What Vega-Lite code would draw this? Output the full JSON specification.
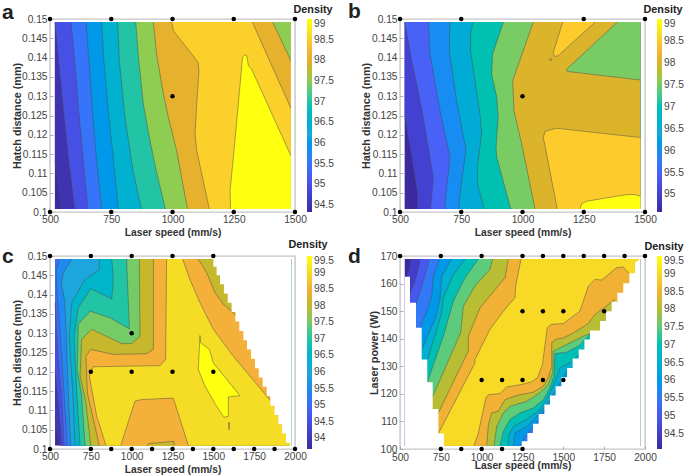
{"$schema":"https://vega.github.io/schema/vega-lite/v6.json","background":"white","padding":{"left":1,"top":0,"right":0,"bottom":0},"columns":2,"spacing":{"row":44,"column":105},"bounds":"flush","resolve":{"scale":{"fill":"independent"},"legend":{"fill":"independent"}},"config":{"font":"Liberation Sans","view":{"stroke":"#c6c6c6","strokeWidth":1.4},"axis":{"grid":false,"domain":false,"ticks":true,"tickSize":-3,"tickColor":"#999999","tickWidth":0.8,"labelColor":"#444444","labelFontSize":10.2,"labelPadding":6,"titleColor":"#333333","titleFontSize":10.8,"titleFontWeight":"bold","labelFlush":false,"labelOverlap":false},"axisX":{"titleFontSize":10.3,"labelPadding":5},"legend":{"padding":0,"labelColor":"#444444","labelFontSize":10.2,"labelOffset":3,"gradientStrokeWidth":0}},
"datasets":{
"a":[
{"s":0,"v":94.33,"x":520,"y":0.1492},{"s":0,"v":94.33,"x":1483,"y":0.1492},{"s":0,"v":94.33,"x":1483,"y":0.1008},{"s":0,"v":94.33,"x":520,"y":0.1008},
{"s":1,"v":94.5,"x":520,"y":0.1133,"g":1},{"s":1,"v":94.5,"x":534,"y":0.1064,"g":1},{"s":1,"v":94.5,"x":544,"y":0.1008,"g":1},{"s":1,"v":94.5,"x":1483,"y":0.1008},{"s":1,"v":94.5,"x":1483,"y":0.1492},{"s":1,"v":94.5,"x":520,"y":0.1492},
{"s":2,"v":95,"x":520,"y":0.1492,"g":2},{"s":2,"v":95,"x":538,"y":0.1375,"g":2},{"s":2,"v":95,"x":554,"y":0.1271,"g":2},{"s":2,"v":95,"x":575,"y":0.1142,"g":2},{"s":2,"v":95,"x":601,"y":0.1008,"g":2},{"s":2,"v":95,"x":1483,"y":0.1008},{"s":2,"v":95,"x":1483,"y":0.1492},
{"s":3,"v":95.5,"x":586,"y":0.1492,"g":3},{"s":3,"v":95.5,"x":602,"y":0.1383,"g":3},{"s":3,"v":95.5,"x":616,"y":0.1271,"g":3},{"s":3,"v":95.5,"x":636,"y":0.1133,"g":3},{"s":3,"v":95.5,"x":655,"y":0.1008,"g":3},{"s":3,"v":95.5,"x":1483,"y":0.1008},{"s":3,"v":95.5,"x":1483,"y":0.1492},
{"s":4,"v":96,"x":647,"y":0.1492,"g":4},{"s":4,"v":96,"x":661,"y":0.1375,"g":4},{"s":4,"v":96,"x":674,"y":0.1254,"g":4},{"s":4,"v":96,"x":690,"y":0.1133,"g":4},{"s":4,"v":96,"x":711,"y":0.1008,"g":4},{"s":4,"v":96,"x":1483,"y":0.1008},{"s":4,"v":96,"x":1483,"y":0.1492},
{"s":5,"v":96.5,"x":711,"y":0.1492,"g":5},{"s":5,"v":96.5,"x":720,"y":0.1392,"g":5},{"s":5,"v":96.5,"x":738,"y":0.1263,"g":5},{"s":5,"v":96.5,"x":758,"y":0.1142,"g":5},{"s":5,"v":96.5,"x":779,"y":0.1008,"g":5},{"s":5,"v":96.5,"x":1483,"y":0.1008},{"s":5,"v":96.5,"x":1483,"y":0.1492},
{"s":6,"v":97,"x":776,"y":0.1492,"g":6},{"s":6,"v":97,"x":783,"y":0.1392,"g":6},{"s":6,"v":97,"x":806,"y":0.1245,"g":6},{"s":6,"v":97,"x":840,"y":0.1103,"g":6},{"s":6,"v":97,"x":873,"y":0.1008,"g":6},{"s":6,"v":97,"x":1483,"y":0.1008},{"s":6,"v":97,"x":1483,"y":0.1492},
{"s":7,"v":97.5,"x":850,"y":0.1492,"g":7},{"s":7,"v":97.5,"x":861,"y":0.1401,"g":7},{"s":7,"v":97.5,"x":881,"y":0.128,"g":7},{"s":7,"v":97.5,"x":908,"y":0.1185,"g":7},{"s":7,"v":97.5,"x":935,"y":0.1103,"g":7},{"s":7,"v":97.5,"x":971,"y":0.1008,"g":7},{"s":7,"v":97.5,"x":1483,"y":0.1008},{"s":7,"v":97.5,"x":1483,"y":0.1492},
{"s":8,"v":98,"x":922,"y":0.1492,"g":8},{"s":8,"v":98,"x":935,"y":0.1409,"g":8},{"s":8,"v":98,"x":963,"y":0.1306,"g":8},{"s":8,"v":98,"x":983,"y":0.1245,"g":8},{"s":8,"v":98,"x":1017,"y":0.1159,"g":8},{"s":8,"v":98,"x":1061,"y":0.1008,"g":8},{"s":8,"v":98,"x":1483,"y":0.1008},{"s":8,"v":98,"x":1483,"y":0.1492},
{"s":9,"v":98.5,"x":997,"y":0.1492,"g":9},{"s":9,"v":98.5,"x":1003,"y":0.147,"g":9},{"s":9,"v":98.5,"x":1105,"y":0.1388,"g":9},{"s":9,"v":98.5,"x":1108,"y":0.1366,"g":9},{"s":9,"v":98.5,"x":1099,"y":0.128,"g":9},{"s":9,"v":98.5,"x":1092,"y":0.1202,"g":9},{"s":9,"v":98.5,"x":1099,"y":0.1159,"g":9},{"s":9,"v":98.5,"x":1150,"y":0.1008,"g":9},{"s":9,"v":98.5,"x":1483,"y":0.1008},{"s":9,"v":98.5,"x":1483,"y":0.1492},
{"s":10,"v":99,"x":1237,"y":0.1008,"g":10},{"s":10,"v":99,"x":1235,"y":0.1055,"g":10},{"s":10,"v":99,"x":1255,"y":0.1185,"g":10},{"s":10,"v":99,"x":1286,"y":0.1401,"g":10},{"s":10,"v":99,"x":1296,"y":0.1407,"g":10},{"s":10,"v":99,"x":1303,"y":0.1405,"g":10},{"s":10,"v":99,"x":1310,"y":0.1379,"g":10},{"s":10,"v":99,"x":1323,"y":0.137,"g":10},{"s":10,"v":99,"x":1483,"y":0.1146,"g":10},{"s":10,"v":99,"x":1483,"y":0.1008},
{"s":11,"v":98,"x":1326,"y":0.1492,"g":11},{"s":11,"v":98,"x":1384,"y":0.1409,"g":11},{"s":11,"v":98,"x":1483,"y":0.1269,"g":11},{"s":11,"v":98,"x":1483,"y":0.1492},
{"s":12,"v":97.5,"x":1409,"y":0.1492,"g":12},{"s":12,"v":97.5,"x":1483,"y":0.1392,"g":12},{"s":12,"v":97.5,"x":1483,"y":0.1492}
],
"b":[
{"s":0,"v":94.6,"x":519,"y":0.1492},{"s":0,"v":94.6,"x":1481,"y":0.1492},{"s":0,"v":94.6,"x":1481,"y":0.1008},{"s":0,"v":94.6,"x":519,"y":0.1008},
{"s":1,"v":95,"x":519,"y":0.125,"g":1},{"s":1,"v":95,"x":548,"y":0.1142,"g":1},{"s":1,"v":95,"x":571,"y":0.1051,"g":1},{"s":1,"v":95,"x":571,"y":0.1008,"g":1},{"s":1,"v":95,"x":1481,"y":0.1008},{"s":1,"v":95,"x":1481,"y":0.1492},{"s":1,"v":95,"x":519,"y":0.1492},
{"s":2,"v":95.5,"x":519,"y":0.1492,"g":2},{"s":2,"v":95.5,"x":548,"y":0.1392,"g":2},{"s":2,"v":95.5,"x":588,"y":0.1271,"g":2},{"s":2,"v":95.5,"x":636,"y":0.109,"g":2},{"s":2,"v":95.5,"x":625,"y":0.1008,"g":2},{"s":2,"v":95.5,"x":1481,"y":0.1008},{"s":2,"v":95.5,"x":1481,"y":0.1492},
{"s":3,"v":96,"x":616,"y":0.1492,"g":3},{"s":3,"v":96,"x":620,"y":0.1452,"g":3},{"s":3,"v":96,"x":620,"y":0.1418,"g":3},{"s":3,"v":96,"x":663,"y":0.1263,"g":3},{"s":3,"v":96,"x":704,"y":0.1142,"g":3},{"s":3,"v":96,"x":684,"y":0.1021,"g":3},{"s":3,"v":96,"x":685,"y":0.1008,"g":3},{"s":3,"v":96,"x":1481,"y":0.1008},{"s":3,"v":96,"x":1481,"y":0.1492},
{"s":4,"v":96.5,"x":704,"y":0.1492,"g":4},{"s":4,"v":96.5,"x":701,"y":0.1418,"g":4},{"s":4,"v":96.5,"x":731,"y":0.1288,"g":4},{"s":4,"v":96.5,"x":769,"y":0.1163,"g":4},{"s":4,"v":96.5,"x":742,"y":0.1029,"g":4},{"s":4,"v":96.5,"x":742,"y":0.1008,"g":4},{"s":4,"v":96.5,"x":1481,"y":0.1008},{"s":4,"v":96.5,"x":1481,"y":0.1492},
{"s":5,"v":97,"x":799,"y":0.1492,"g":5},{"s":5,"v":97,"x":788,"y":0.1465,"g":5},{"s":5,"v":97,"x":788,"y":0.1418,"g":5},{"s":5,"v":97,"x":827,"y":0.125,"g":5},{"s":5,"v":97,"x":833,"y":0.1202,"g":5},{"s":5,"v":97,"x":816,"y":0.1116,"g":5},{"s":5,"v":97,"x":816,"y":0.1073,"g":5},{"s":5,"v":97,"x":843,"y":0.1008,"g":5},{"s":5,"v":97,"x":1481,"y":0.1008},{"s":5,"v":97,"x":1481,"y":0.1492},
{"s":6,"v":97.5,"x":922,"y":0.1492,"g":6},{"s":6,"v":97.5,"x":878,"y":0.1409,"g":6},{"s":6,"v":97.5,"x":874,"y":0.1358,"g":6},{"s":6,"v":97.5,"x":895,"y":0.1297,"g":6},{"s":6,"v":97.5,"x":901,"y":0.1245,"g":6},{"s":6,"v":97.5,"x":892,"y":0.1168,"g":6},{"s":6,"v":97.5,"x":895,"y":0.1142,"g":6},{"s":6,"v":97.5,"x":952,"y":0.1008,"g":6},{"s":6,"v":97.5,"x":1481,"y":0.1008},{"s":6,"v":97.5,"x":1481,"y":0.1492},
{"s":7,"v":98,"x":1044,"y":0.1492,"g":7},{"s":7,"v":98,"x":960,"y":0.134,"g":7},{"s":7,"v":98,"x":965,"y":0.1263,"g":7},{"s":7,"v":98,"x":997,"y":0.1176,"g":7},{"s":7,"v":98,"x":1051,"y":0.1008,"g":7},{"s":7,"v":98,"x":1481,"y":0.1008},{"s":7,"v":98,"x":1481,"y":0.1492},
{"s":8,"v":98.5,"x":1142,"y":0.1008,"g":8},{"s":8,"v":98.5,"x":1085,"y":0.1193,"g":8},{"s":8,"v":98.5,"x":1092,"y":0.1209,"g":8},{"s":8,"v":98.5,"x":1139,"y":0.1217,"g":8},{"s":8,"v":98.5,"x":1481,"y":0.1193,"g":8},{"s":8,"v":98.5,"x":1481,"y":0.1008},
{"s":9,"v":99,"x":1235,"y":0.1008,"g":9},{"s":9,"v":99,"x":1241,"y":0.1021,"g":9},{"s":9,"v":99,"x":1262,"y":0.1028,"g":9},{"s":9,"v":99,"x":1425,"y":0.1045,"g":9},{"s":9,"v":99,"x":1459,"y":0.1045,"g":9},{"s":9,"v":99,"x":1481,"y":0.1041,"g":9},{"s":9,"v":99,"x":1481,"y":0.1008},
{"s":10,"v":98.5,"x":1164,"y":0.1492,"g":10},{"s":10,"v":98.5,"x":1126,"y":0.1414,"g":10},{"s":10,"v":98.5,"x":1129,"y":0.1403,"g":10},{"s":10,"v":98.5,"x":1146,"y":0.1405,"g":10},{"s":10,"v":98.5,"x":1296,"y":0.1492,"g":10},
{"s":11,"v":97.5,"x":1387,"y":0.1492,"g":11},{"s":11,"v":97.5,"x":1180,"y":0.137,"g":11},{"s":11,"v":97.5,"x":1184,"y":0.1364,"g":11},{"s":11,"v":97.5,"x":1481,"y":0.1342,"g":11},{"s":11,"v":97.5,"x":1481,"y":0.1492},
{"s":12,"v":98.5,"x":1110,"y":0.1394,"g":12},{"s":12,"v":98.5,"x":1115,"y":0.1399,"g":12},{"s":12,"v":98.5,"x":1119,"y":0.1392,"g":12},{"s":12,"v":98.5,"x":1110,"y":0.1394,"g":12}
],
"c":[
{"s":0,"v":93.68,"x":531,"y":0.1492},{"s":0,"v":93.68,"x":1976,"y":0.1492},{"s":0,"v":93.68,"x":1976,"y":0.1009},{"s":0,"v":93.68,"x":531,"y":0.1009},
{"s":1,"v":94,"x":531,"y":0.1085,"g":1},{"s":1,"v":94,"x":545,"y":0.1033,"g":1},{"s":1,"v":94,"x":557,"y":0.1009,"g":1},{"s":1,"v":94,"x":1976,"y":0.1009},{"s":1,"v":94,"x":1976,"y":0.1492},{"s":1,"v":94,"x":531,"y":0.1492},
{"s":2,"v":94.5,"x":531,"y":0.1206,"g":2},{"s":2,"v":94.5,"x":551,"y":0.1119,"g":2},{"s":2,"v":94.5,"x":565,"y":0.105,"g":2},{"s":2,"v":94.5,"x":571,"y":0.1009,"g":2},{"s":2,"v":94.5,"x":1976,"y":0.1009},{"s":2,"v":94.5,"x":1976,"y":0.1492},{"s":2,"v":94.5,"x":531,"y":0.1492},
{"s":3,"v":95,"x":531,"y":0.1379,"g":3},{"s":3,"v":95,"x":551,"y":0.1232,"g":3},{"s":3,"v":95,"x":571,"y":0.1145,"g":3},{"s":3,"v":95,"x":586,"y":0.1009,"g":3},{"s":3,"v":95,"x":1976,"y":0.1009},{"s":3,"v":95,"x":1976,"y":0.1492},{"s":3,"v":95,"x":531,"y":0.1492},
{"s":4,"v":95.5,"x":559,"y":0.1492,"g":4},{"s":4,"v":95.5,"x":537,"y":0.146,"g":4},{"s":4,"v":95.5,"x":545,"y":0.1396,"g":4},{"s":4,"v":95.5,"x":561,"y":0.131,"g":4},{"s":4,"v":95.5,"x":586,"y":0.1145,"g":4},{"s":4,"v":95.5,"x":606,"y":0.1009,"g":4},{"s":4,"v":95.5,"x":1976,"y":0.1009},{"s":4,"v":95.5,"x":1976,"y":0.1492},
{"s":5,"v":96,"x":635,"y":0.1492,"g":5},{"s":5,"v":96,"x":582,"y":0.1457,"g":5},{"s":5,"v":96,"x":569,"y":0.1431,"g":5},{"s":5,"v":96,"x":590,"y":0.1383,"g":5},{"s":5,"v":96,"x":598,"y":0.131,"g":5},{"s":5,"v":96,"x":612,"y":0.1145,"g":5},{"s":5,"v":96,"x":627,"y":0.1009,"g":5},{"s":5,"v":96,"x":1976,"y":0.1009},{"s":5,"v":96,"x":1976,"y":0.1492},
{"s":6,"v":96.5,"x":802,"y":0.1492,"g":6},{"s":6,"v":96.5,"x":802,"y":0.1465,"g":6},{"s":6,"v":96.5,"x":714,"y":0.1439,"g":6},{"s":6,"v":96.5,"x":633,"y":0.1379,"g":6},{"s":6,"v":96.5,"x":618,"y":0.1292,"g":6},{"s":6,"v":96.5,"x":640,"y":0.1145,"g":6},{"s":6,"v":96.5,"x":653,"y":0.1009,"g":6},{"s":6,"v":96.5,"x":1976,"y":0.1009},{"s":6,"v":96.5,"x":1976,"y":0.1492},
{"s":7,"v":97,"x":878,"y":0.1492,"g":7},{"s":7,"v":97,"x":888,"y":0.1439,"g":7},{"s":7,"v":97,"x":878,"y":0.1389,"g":7},{"s":7,"v":97,"x":749,"y":0.1415,"g":7},{"s":7,"v":97,"x":673,"y":0.1366,"g":7},{"s":7,"v":97,"x":647,"y":0.1292,"g":7},{"s":7,"v":97,"x":665,"y":0.1137,"g":7},{"s":7,"v":97,"x":684,"y":0.1009,"g":7},{"s":7,"v":97,"x":1976,"y":0.1009},{"s":7,"v":97,"x":1976,"y":0.1492},
{"s":8,"v":97.5,"x":969,"y":0.1492,"g":8},{"s":8,"v":97.5,"x":986,"y":0.1311,"g":8},{"s":8,"v":97.5,"x":867,"y":0.134,"g":8},{"s":8,"v":97.5,"x":745,"y":0.1357,"g":8},{"s":8,"v":97.5,"x":673,"y":0.1323,"g":8},{"s":8,"v":97.5,"x":667,"y":0.1206,"g":8},{"s":8,"v":97.5,"x":694,"y":0.1137,"g":8},{"s":8,"v":97.5,"x":714,"y":0.1009,"g":8},{"s":8,"v":97.5,"x":1976,"y":0.1009},{"s":8,"v":97.5,"x":1976,"y":0.1492},
{"s":9,"v":98,"x":1047,"y":0.1492,"g":9},{"s":9,"v":98,"x":1051,"y":0.1292,"g":9},{"s":9,"v":98,"x":1000,"y":0.1273,"g":9},{"s":9,"v":98,"x":939,"y":0.1273,"g":9},{"s":9,"v":98,"x":755,"y":0.131,"g":9},{"s":9,"v":98,"x":694,"y":0.1284,"g":9},{"s":9,"v":98,"x":684,"y":0.1189,"g":9},{"s":9,"v":98,"x":720,"y":0.1119,"g":9},{"s":9,"v":98,"x":749,"y":0.1009,"g":9},{"s":9,"v":98,"x":1976,"y":0.1009},{"s":9,"v":98,"x":1976,"y":0.1492},
{"s":10,"v":98.5,"x":1133,"y":0.1492,"g":10},{"s":10,"v":98.5,"x":1133,"y":0.1258,"g":10},{"s":10,"v":98.5,"x":1092,"y":0.1247,"g":10},{"s":10,"v":98.5,"x":888,"y":0.1245,"g":10},{"s":10,"v":98.5,"x":749,"y":0.1258,"g":10},{"s":10,"v":98.5,"x":720,"y":0.124,"g":10},{"s":10,"v":98.5,"x":729,"y":0.1145,"g":10},{"s":10,"v":98.5,"x":802,"y":0.1009,"g":10},{"s":10,"v":98.5,"x":1976,"y":0.1009},{"s":10,"v":98.5,"x":1680,"y":0.1318,"g":20},{"s":10,"v":98.5,"x":1633,"y":0.1349,"g":20},{"s":10,"v":98.5,"x":1561,"y":0.1375,"g":20},{"s":10,"v":98.5,"x":1510,"y":0.1405,"g":20},{"s":10,"v":98.5,"x":1459,"y":0.1457,"g":20},{"s":10,"v":98.5,"x":1408,"y":0.1492,"g":20},
{"s":11,"v":99,"x":1214,"y":0.1492,"g":11},{"s":11,"v":99,"x":1208,"y":0.1232,"g":11},{"s":11,"v":99,"x":1174,"y":0.1216,"g":11},{"s":11,"v":99,"x":765,"y":0.1213,"g":11},{"s":11,"v":99,"x":741,"y":0.1189,"g":11},{"s":11,"v":99,"x":786,"y":0.1085,"g":11},{"s":11,"v":99,"x":843,"y":0.1009,"g":11},{"s":11,"v":99,"x":1976,"y":0.1009},{"s":11,"v":99,"x":1850,"y":0.1125,"g":21},{"s":11,"v":99,"x":1623,"y":0.124,"g":21},{"s":11,"v":99,"x":1500,"y":0.131,"g":21},{"s":11,"v":99,"x":1418,"y":0.1379,"g":21},{"s":11,"v":99,"x":1357,"y":0.1439,"g":21},{"s":11,"v":99,"x":1312,"y":0.1492,"g":21},
{"s":12,"v":98.5,"x":933,"y":0.1009,"g":12},{"s":12,"v":98.5,"x":1020,"y":0.1124,"g":12},{"s":12,"v":98.5,"x":1061,"y":0.1128,"g":12},{"s":12,"v":98.5,"x":1255,"y":0.1132,"g":12},{"s":12,"v":98.5,"x":1347,"y":0.1009,"g":12},
{"s":13,"v":98,"x":1092,"y":0.1009,"g":13},{"s":13,"v":98,"x":1102,"y":0.1014,"g":13},{"s":13,"v":98,"x":1259,"y":0.102,"g":13},{"s":13,"v":98,"x":1259,"y":0.1009,"g":13},
{"s":14,"v":99.5,"x":1418,"y":0.1294,"g":14},{"s":14,"v":99.5,"x":1423,"y":0.1275,"g":14},{"s":14,"v":99.5,"x":1476,"y":0.1258,"g":14},{"s":14,"v":99.5,"x":1500,"y":0.1223,"g":14},{"s":14,"v":99.5,"x":1663,"y":0.1138,"g":14},{"s":14,"v":99.5,"x":1592,"y":0.1135,"g":14},{"s":14,"v":99.5,"x":1592,"y":0.1085,"g":14},{"s":14,"v":99.5,"x":1565,"y":0.1082,"g":14},{"s":14,"v":99.5,"x":1520,"y":0.1111,"g":14},{"s":14,"v":99.5,"x":1449,"y":0.1163,"g":14},{"s":14,"v":99.5,"x":1408,"y":0.1206,"g":14},{"s":14,"v":99.5,"x":1418,"y":0.1294,"g":14},
{"s":15,"v":98.5,"x":1592,"y":0.1068,"g":15},{"s":15,"v":98.5,"x":1600,"y":0.1068,"g":15},{"s":15,"v":98.5,"x":1596,"y":0.105,"g":15},{"s":15,"v":98.5,"x":1592,"y":0.1068,"g":15}
],
"d":[
{"s":0,"v":94.07,"x":529,"y":168.9},{"s":0,"v":94.07,"x":1970,"y":168.9},{"s":0,"v":94.07,"x":1970,"y":101.2},{"s":0,"v":94.07,"x":529,"y":101.2},
{"s":1,"v":94.5,"x":565,"y":168.9,"g":1},{"s":1,"v":94.5,"x":557,"y":165.2,"g":1},{"s":1,"v":94.5,"x":541,"y":162.5,"g":1},{"s":1,"v":94.5,"x":529,"y":162.1,"g":1},{"s":1,"v":94.5,"x":529,"y":101.2},{"s":1,"v":94.5,"x":1970,"y":101.2},{"s":1,"v":94.5,"x":1970,"y":168.9},
{"s":2,"v":95,"x":622,"y":168.9,"g":2},{"s":2,"v":95,"x":612,"y":165.2,"g":2},{"s":2,"v":95,"x":592,"y":160.9,"g":2},{"s":2,"v":95,"x":565,"y":156.7,"g":2},{"s":2,"v":95,"x":551,"y":154.3,"g":2},{"s":2,"v":95,"x":529,"y":101.2},{"s":2,"v":95,"x":1970,"y":101.2},{"s":2,"v":95,"x":1970,"y":168.9},
{"s":3,"v":95.5,"x":680,"y":168.9,"g":3},{"s":3,"v":95.5,"x":653,"y":163.3,"g":3},{"s":3,"v":95.5,"x":633,"y":159.1,"g":3},{"s":3,"v":95.5,"x":598,"y":152.4,"g":3},{"s":3,"v":95.5,"x":586,"y":148.2,"g":3},{"s":3,"v":95.5,"x":529,"y":101.2},{"s":3,"v":95.5,"x":1970,"y":101.2},{"s":3,"v":95.5,"x":1970,"y":168.9},
{"s":4,"v":96,"x":741,"y":168.9,"g":4},{"s":4,"v":96,"x":704,"y":162.7,"g":4},{"s":4,"v":96,"x":694,"y":155.5,"g":4},{"s":4,"v":96,"x":667,"y":150.6,"g":4},{"s":4,"v":96,"x":622,"y":143.4,"g":4},{"s":4,"v":96,"x":529,"y":101.2},{"s":4,"v":96,"x":1235,"y":101.2,"g":24},{"s":4,"v":96,"x":1265,"y":104.6,"g":24},{"s":4,"v":96,"x":1327,"y":108.8,"g":24},{"s":4,"v":96,"x":1388,"y":114.3,"g":24},{"s":4,"v":96,"x":1449,"y":119.1,"g":24},{"s":4,"v":96,"x":1496,"y":123.7,"g":24},{"s":4,"v":96,"x":1531,"y":126.4,"g":24},{"s":4,"v":96,"x":1970,"y":101.2},{"s":4,"v":96,"x":1970,"y":168.9},
{"s":5,"v":96.5,"x":816,"y":168.9,"g":5},{"s":5,"v":96.5,"x":755,"y":162.7,"g":5},{"s":5,"v":96.5,"x":745,"y":154.3,"g":5},{"s":5,"v":96.5,"x":714,"y":147,"g":5},{"s":5,"v":96.5,"x":633,"y":136.1,"g":5},{"s":5,"v":96.5,"x":529,"y":101.2},{"s":5,"v":96.5,"x":1194,"y":101.2,"g":25},{"s":5,"v":96.5,"x":1204,"y":105.8,"g":25},{"s":5,"v":96.5,"x":1276,"y":108.2,"g":25},{"s":5,"v":96.5,"x":1357,"y":113.1,"g":25},{"s":5,"v":96.5,"x":1418,"y":117.9,"g":25},{"s":5,"v":96.5,"x":1480,"y":124,"g":25},{"s":5,"v":96.5,"x":1520,"y":128.2,"g":25},{"s":5,"v":96.5,"x":1551,"y":129.4,"g":25},{"s":5,"v":96.5,"x":1970,"y":101.2},{"s":5,"v":96.5,"x":1970,"y":168.9},
{"s":6,"v":97,"x":898,"y":168.9,"g":6},{"s":6,"v":97,"x":827,"y":163.3,"g":6},{"s":6,"v":97,"x":765,"y":154.9,"g":6},{"s":6,"v":97,"x":755,"y":149.4,"g":6},{"s":6,"v":97,"x":667,"y":131.9,"g":6},{"s":6,"v":97,"x":529,"y":101.2},{"s":6,"v":97,"x":1163,"y":101.2,"g":26},{"s":6,"v":97,"x":1163,"y":104.6,"g":26},{"s":6,"v":97,"x":1194,"y":108.2,"g":26},{"s":6,"v":97,"x":1276,"y":110.7,"g":26},{"s":6,"v":97,"x":1357,"y":114.3,"g":26},{"s":6,"v":97,"x":1408,"y":119.1,"g":26},{"s":6,"v":97,"x":1449,"y":124.6,"g":26},{"s":6,"v":97,"x":1480,"y":129.4,"g":26},{"s":6,"v":97,"x":1561,"y":131.9,"g":26},{"s":6,"v":97,"x":1602,"y":134.9,"g":26},{"s":6,"v":97,"x":1970,"y":101.2},{"s":6,"v":97,"x":1970,"y":168.9},
{"s":7,"v":97.5,"x":980,"y":168.9,"g":7},{"s":7,"v":97.5,"x":898,"y":162.1,"g":7},{"s":7,"v":97.5,"x":827,"y":153.7,"g":7},{"s":7,"v":97.5,"x":765,"y":140.9,"g":7},{"s":7,"v":97.5,"x":667,"y":124.2,"g":7},{"s":7,"v":97.5,"x":529,"y":101.2},{"s":7,"v":97.5,"x":1112,"y":101.2,"g":27},{"s":7,"v":97.5,"x":1133,"y":106.4,"g":27},{"s":7,"v":97.5,"x":1174,"y":110.7,"g":27},{"s":7,"v":97.5,"x":1235,"y":113.1,"g":27},{"s":7,"v":97.5,"x":1316,"y":114.9,"g":27},{"s":7,"v":97.5,"x":1378,"y":117.9,"g":27},{"s":7,"v":97.5,"x":1418,"y":122.2,"g":27},{"s":7,"v":97.5,"x":1443,"y":126.4,"g":27},{"s":7,"v":97.5,"x":1449,"y":134.6,"g":27},{"s":7,"v":97.5,"x":1520,"y":135.1,"g":27},{"s":7,"v":97.5,"x":1592,"y":137.3,"g":27},{"s":7,"v":97.5,"x":1663,"y":141.5,"g":27},{"s":7,"v":97.5,"x":1970,"y":101.2},{"s":7,"v":97.5,"x":1970,"y":168.9},
{"s":8,"v":98,"x":1067,"y":168.9,"g":8},{"s":8,"v":98,"x":1051,"y":165.2,"g":8},{"s":8,"v":98,"x":959,"y":159.1,"g":8},{"s":8,"v":98,"x":888,"y":151.8,"g":8},{"s":8,"v":98,"x":871,"y":142.1,"g":8},{"s":8,"v":98,"x":700,"y":119.1,"g":8},{"s":8,"v":98,"x":529,"y":101.2},{"s":8,"v":98,"x":1076,"y":101.2,"g":28},{"s":8,"v":98,"x":1092,"y":108.2,"g":28},{"s":8,"v":98,"x":1133,"y":113.1,"g":28},{"s":8,"v":98,"x":1174,"y":115.5,"g":28},{"s":8,"v":98,"x":1276,"y":117.3,"g":28},{"s":8,"v":98,"x":1357,"y":120.4,"g":28},{"s":8,"v":98,"x":1408,"y":123.4,"g":28},{"s":8,"v":98,"x":1435,"y":127.6,"g":28},{"s":8,"v":98,"x":1439,"y":135.5,"g":28},{"s":8,"v":98,"x":1541,"y":138.5,"g":28},{"s":8,"v":98,"x":1623,"y":140.9,"g":28},{"s":8,"v":98,"x":1700,"y":142.8,"g":28},{"s":8,"v":98,"x":1970,"y":101.2},{"s":8,"v":98,"x":1970,"y":168.9},
{"s":9,"v":98.5,"x":1163,"y":168.9,"g":9},{"s":9,"v":98.5,"x":1143,"y":162.1,"g":9},{"s":9,"v":98.5,"x":1092,"y":158.5,"g":9},{"s":9,"v":98.5,"x":990,"y":151.2,"g":9},{"s":9,"v":98.5,"x":918,"y":140.9,"g":9},{"s":9,"v":98.5,"x":918,"y":135.5,"g":9},{"s":9,"v":98.5,"x":735,"y":113.1,"g":9},{"s":9,"v":98.5,"x":529,"y":101.2},{"s":9,"v":98.5,"x":1031,"y":101.2,"g":29},{"s":9,"v":98.5,"x":1041,"y":108.8,"g":29},{"s":9,"v":98.5,"x":1061,"y":113.1,"g":29},{"s":9,"v":98.5,"x":1102,"y":113.7,"g":29},{"s":9,"v":98.5,"x":1143,"y":117.9,"g":29},{"s":9,"v":98.5,"x":1214,"y":119.4,"g":29},{"s":9,"v":98.5,"x":1316,"y":120.6,"g":29},{"s":9,"v":98.5,"x":1378,"y":122.8,"g":29},{"s":9,"v":98.5,"x":1408,"y":125.8,"g":29},{"s":9,"v":98.5,"x":1429,"y":130,"g":29},{"s":9,"v":98.5,"x":1429,"y":138.5,"g":29},{"s":9,"v":98.5,"x":1449,"y":139.7,"g":29},{"s":9,"v":98.5,"x":1500,"y":140.3,"g":29},{"s":9,"v":98.5,"x":1561,"y":142.1,"g":29},{"s":9,"v":98.5,"x":1653,"y":145.5,"g":29},{"s":9,"v":98.5,"x":1694,"y":148.8,"g":29},{"s":9,"v":98.5,"x":1796,"y":153.3,"g":29},{"s":9,"v":98.5,"x":1816,"y":154.3,"g":29},{"s":9,"v":98.5,"x":1970,"y":101.2},{"s":9,"v":98.5,"x":1970,"y":168.9},
{"s":10,"v":99,"x":1241,"y":168.9,"g":10},{"s":10,"v":99,"x":1208,"y":159.1,"g":10},{"s":10,"v":99,"x":1204,"y":154.9,"g":10},{"s":10,"v":99,"x":1133,"y":150,"g":10},{"s":10,"v":99,"x":1051,"y":143.4,"g":10},{"s":10,"v":99,"x":959,"y":132.5,"g":10},{"s":10,"v":99,"x":959,"y":131.2,"g":10},{"s":10,"v":99,"x":735,"y":105.6,"g":10},{"s":10,"v":99,"x":529,"y":101.2},{"s":10,"v":99,"x":953,"y":101.2,"g":30},{"s":10,"v":99,"x":980,"y":105.8,"g":30},{"s":10,"v":99,"x":1010,"y":114.3,"g":30},{"s":10,"v":99,"x":1025,"y":118.5,"g":30},{"s":10,"v":99,"x":1041,"y":119.7,"g":30},{"s":10,"v":99,"x":1112,"y":120.1,"g":30},{"s":10,"v":99,"x":1153,"y":122.5,"g":30},{"s":10,"v":99,"x":1245,"y":123.4,"g":30},{"s":10,"v":99,"x":1306,"y":124.4,"g":30},{"s":10,"v":99,"x":1341,"y":125.8,"g":30},{"s":10,"v":99,"x":1372,"y":130.6,"g":30},{"s":10,"v":99,"x":1402,"y":144,"g":30},{"s":10,"v":99,"x":1423,"y":145.2,"g":30},{"s":10,"v":99,"x":1500,"y":145.5,"g":30},{"s":10,"v":99,"x":1602,"y":150,"g":30},{"s":10,"v":99,"x":1653,"y":159.1,"g":30},{"s":10,"v":99,"x":1694,"y":161.5,"g":30},{"s":10,"v":99,"x":1735,"y":161.3,"g":30},{"s":10,"v":99,"x":1827,"y":165.8,"g":30},{"s":10,"v":99,"x":1867,"y":166,"g":30},{"s":10,"v":99,"x":1908,"y":163.3,"g":30},{"s":10,"v":99,"x":1929,"y":162.7,"g":30},{"s":10,"v":99,"x":1970,"y":101.2},{"s":10,"v":99,"x":1970,"y":168.9}
],
"mc":[{"m":1,"x":1500,"y":0.1492},{"m":1,"x":1500,"y":0.1472},{"m":1,"x":1520,"y":0.1472},{"m":1,"x":1520,"y":0.145},{"m":1,"x":1541,"y":0.145},{"m":1,"x":1541,"y":0.1427},{"m":1,"x":1565,"y":0.1427},{"m":1,"x":1565,"y":0.1403},{"m":1,"x":1588,"y":0.1403},{"m":1,"x":1588,"y":0.1379},{"m":1,"x":1612,"y":0.1379},{"m":1,"x":1612,"y":0.1355},{"m":1,"x":1635,"y":0.1355},{"m":1,"x":1635,"y":0.133},{"m":1,"x":1659,"y":0.133},{"m":1,"x":1659,"y":0.1306},{"m":1,"x":1684,"y":0.1306},{"m":1,"x":1684,"y":0.1282},{"m":1,"x":1706,"y":0.1282},{"m":1,"x":1706,"y":0.1258},{"m":1,"x":1731,"y":0.1258},{"m":1,"x":1731,"y":0.1234},{"m":1,"x":1755,"y":0.1234},{"m":1,"x":1755,"y":0.1209},{"m":1,"x":1778,"y":0.1209},{"m":1,"x":1778,"y":0.1185},{"m":1,"x":1802,"y":0.1185},{"m":1,"x":1802,"y":0.1161},{"m":1,"x":1827,"y":0.1161},{"m":1,"x":1827,"y":0.1137},{"m":1,"x":1849,"y":0.1137},{"m":1,"x":1849,"y":0.1112},{"m":1,"x":1874,"y":0.1112},{"m":1,"x":1874,"y":0.1088},{"m":1,"x":1898,"y":0.1088},{"m":1,"x":1898,"y":0.1064},{"m":1,"x":1921,"y":0.1064},{"m":1,"x":1921,"y":0.104},{"m":1,"x":1945,"y":0.104},{"m":1,"x":1945,"y":0.1016},{"m":1,"x":1970,"y":0.1016},{"m":1,"x":1970,"y":0.1008},{"m":1,"x":1977,"y":0.1008},{"m":1,"x":1977,"y":0.1492}],
"md":[{"m":1,"x":528,"y":162.5},{"m":1,"x":561,"y":162.5},{"m":1,"x":561,"y":153},{"m":1,"x":598,"y":153},{"m":1,"x":598,"y":144},{"m":1,"x":633,"y":144},{"m":1,"x":633,"y":132.5},{"m":1,"x":667,"y":132.5},{"m":1,"x":667,"y":124.2},{"m":1,"x":700,"y":124.2},{"m":1,"x":700,"y":114.5},{"m":1,"x":735,"y":114.5},{"m":1,"x":735,"y":105.6},{"m":1,"x":769,"y":105.6},{"m":1,"x":769,"y":100.9},{"m":1,"x":528,"y":100.9},
{"m":2,"x":1970,"y":168.9},{"m":2,"x":1939,"y":167.6},{"m":2,"x":1939,"y":163.7},{"m":2,"x":1904,"y":163.7},{"m":2,"x":1904,"y":160.1},{"m":2,"x":1867,"y":160.1},{"m":2,"x":1867,"y":156.7},{"m":2,"x":1831,"y":156.7},{"m":2,"x":1831,"y":153.4},{"m":2,"x":1796,"y":153.4},{"m":2,"x":1796,"y":150},{"m":2,"x":1761,"y":150},{"m":2,"x":1761,"y":146.4},{"m":2,"x":1725,"y":146.4},{"m":2,"x":1725,"y":143},{"m":2,"x":1663,"y":143},{"m":2,"x":1663,"y":139.7},{"m":2,"x":1629,"y":139.7},{"m":2,"x":1629,"y":136.1},{"m":2,"x":1594,"y":136.1},{"m":2,"x":1594,"y":132.8},{"m":2,"x":1557,"y":132.8},{"m":2,"x":1557,"y":129.4},{"m":2,"x":1523,"y":129.4},{"m":2,"x":1523,"y":126},{"m":2,"x":1488,"y":126},{"m":2,"x":1488,"y":122.8},{"m":2,"x":1453,"y":122.8},{"m":2,"x":1453,"y":119.4},{"m":2,"x":1418,"y":119.4},{"m":2,"x":1418,"y":116.1},{"m":2,"x":1384,"y":116.1},{"m":2,"x":1384,"y":112.7},{"m":2,"x":1349,"y":112.7},{"m":2,"x":1349,"y":109.2},{"m":2,"x":1314,"y":109.2},{"m":2,"x":1314,"y":105.8},{"m":2,"x":1280,"y":105.8},{"m":2,"x":1280,"y":102.8},{"m":2,"x":1245,"y":102.8},{"m":2,"x":1245,"y":100.9},{"m":2,"x":1971,"y":100.9},{"m":2,"x":1971,"y":168.9}],
"pa":[{"x":500,"y":0.15},{"x":750,"y":0.15},{"x":1000,"y":0.15},{"x":1250,"y":0.15},{"x":1500,"y":0.15},{"x":500,"y":0.1},{"x":750,"y":0.1},{"x":1000,"y":0.1},{"x":1250,"y":0.1},{"x":1500,"y":0.1},{"x":1000,"y":0.13}],
"pb":[{"x":500,"y":0.15},{"x":750,"y":0.15},{"x":1250,"y":0.15},{"x":1500,"y":0.15},{"x":500,"y":0.1},{"x":750,"y":0.1},{"x":1000,"y":0.1},{"x":1250,"y":0.1},{"x":1500,"y":0.1},{"x":1000,"y":0.13}],
"pc":[{"x":500,"y":0.15},{"x":750,"y":0.15},{"x":1000,"y":0.15},{"x":1250,"y":0.15},{"x":1500,"y":0.15},{"x":500,"y":0.1},{"x":750,"y":0.1},{"x":875,"y":0.1},{"x":1000,"y":0.1},{"x":1125,"y":0.1},{"x":1250,"y":0.1},{"x":1375,"y":0.1},{"x":1500,"y":0.1},{"x":1625,"y":0.1},{"x":1750,"y":0.1},{"x":1875,"y":0.1},{"x":2000,"y":0.1},{"x":1000,"y":0.13},{"x":750,"y":0.12},{"x":1000,"y":0.12},{"x":1250,"y":0.12},{"x":1500,"y":0.12}],
"pd":[{"x":500,"y":170},{"x":750,"y":170},{"x":1000,"y":170},{"x":1250,"y":170},{"x":1375,"y":170},{"x":1500,"y":170},{"x":1625,"y":170},{"x":1750,"y":170},{"x":1875,"y":170},{"x":2000,"y":170},{"x":750,"y":100},{"x":875,"y":100},{"x":1000,"y":100},{"x":1125,"y":100},{"x":1250,"y":100},{"x":1250,"y":150},{"x":1375,"y":150},{"x":1500,"y":150},{"x":1750,"y":150},{"x":1000,"y":125},{"x":1125,"y":125},{"x":1250,"y":125},{"x":1375,"y":125},{"x":1500,"y":125}]
},
"concat":[
{"width":245,"height":193,
"encoding":{"x":{"field":"x","type":"quantitative","scale":{"domain":[500,1500],"nice":false,"zero":false},"axis":{"values":[500,750,1000,1250,1500],"format":"d","title":"Laser speed (mm/s)","titlePadding":3}},"y":{"field":"y","type":"quantitative","scale":{"domain":[0.1,0.15],"nice":false,"zero":false},"axis":{"values":[0.1,0.105,0.11,0.115,0.12,0.125,0.13,0.135,0.14,0.145,0.15],"format":".3~f","title":"Hatch distance (mm)","titleX":-28,"titleY":96.5}}},
"layer":[
{"data":{"name":"a"},"transform":[{"window":[{"op":"row_number","as":"i"}]}],"mark":{"type":"line","strokeWidth":0},"encoding":{"fill":{"field":"v","type":"quantitative","scale":{"domain":[94.33,94.8,95.26,95.73,96.2,96.67,97.13,97.51,97.79,98,98.21,98.47,98.6,99],"range":["#3b2a9e","#4343d6","#4a60f8","#2f85f5","#1fa5dc","#05b8c4","#3fc795","#90cc50","#c4b82c","#e6b22e","#f5b038","#fdcc2c","#f5dc25","#ffff10"]},"legend":{"title":null,"orient":"none","legendX":257,"legendY":0,"gradientLength":193,"gradientThickness":5,"format":".1~f","values":[94.5,95,95.5,96,96.5,97,97.5,98,98.5,99]}},"detail":{"field":"s"},"order":{"field":"i"}}},
{"data":{"name":"a"},"transform":[{"window":[{"op":"row_number","as":"i"}]},{"filter":"isValid(datum.g)"}],"mark":{"type":"line","stroke":"#4a4a4a","strokeWidth":0.6,"strokeOpacity":0.8},"encoding":{"detail":{"field":"g"},"order":{"field":"i"}}},
{"data":{"name":"pa"},"mark":{"type":"point","filled":true,"color":"black","size":20,"opacity":1}},
{"data":{"values":[{"x":1500,"y":0.15}]},"mark":{"type":"text","text":"Density","fontWeight":"bold","fontSize":10.8,"color":"#222222","dx":18,"dy":-9}},
{"data":{"values":[{"x":500,"y":0.15}]},"mark":{"type":"text","text":"a","align":"left","baseline":"alphabetic","fontWeight":"bold","fontSize":21,"color":"#222222","dx":-48,"dy":0}}
]},
{"width":245,"height":193,
"encoding":{"x":{"field":"x","type":"quantitative","scale":{"domain":[500,1500],"nice":false,"zero":false},"axis":{"values":[500,750,1000,1250,1500],"format":"d","title":"Laser speed (mm/s)","titlePadding":3}},"y":{"field":"y","type":"quantitative","scale":{"domain":[0.1,0.15],"nice":false,"zero":false},"axis":{"values":[0.1,0.105,0.11,0.115,0.12,0.125,0.13,0.135,0.14,0.145,0.15],"format":".3~f","title":"Hatch distance (mm)","titleX":-29,"titleY":96.5}}},
"layer":[
{"data":{"name":"b"},"transform":[{"window":[{"op":"row_number","as":"i"}]}],"mark":{"type":"line","strokeWidth":0},"encoding":{"fill":{"field":"v","type":"quantitative","scale":{"domain":[94.6,95.04,95.48,95.92,96.36,96.8,97.24,97.59,97.86,98.06,98.25,98.5,98.62,99],"range":["#3b2a9e","#4343d6","#4a60f8","#2f85f5","#1fa5dc","#05b8c4","#3fc795","#90cc50","#c4b82c","#e6b22e","#f5b038","#fdcc2c","#f5dc25","#ffff10"]},"legend":{"title":null,"orient":"none","legendX":257,"legendY":0,"gradientLength":193,"gradientThickness":5,"format":".1~f","values":[95,95.5,96,96.5,97,97.5,98,98.5,99]}},"detail":{"field":"s"},"order":{"field":"i"}}},
{"data":{"name":"b"},"transform":[{"window":[{"op":"row_number","as":"i"}]},{"filter":"isValid(datum.g)"}],"mark":{"type":"line","stroke":"#4a4a4a","strokeWidth":0.6,"strokeOpacity":0.8},"encoding":{"detail":{"field":"g"},"order":{"field":"i"}}},
{"data":{"name":"pb"},"mark":{"type":"point","filled":true,"color":"black","size":20,"opacity":1}},
{"data":{"values":[{"x":1500,"y":0.15}]},"mark":{"type":"text","text":"Density","fontWeight":"bold","fontSize":10.8,"color":"#222222","dx":18,"dy":-9}},
{"data":{"values":[{"x":500,"y":0.15}]},"mark":{"type":"text","text":"b","align":"left","baseline":"alphabetic","fontWeight":"bold","fontSize":21,"color":"#222222","dx":-52,"dy":-1}}
]},
{"width":245,"height":193,
"encoding":{"x":{"field":"x","type":"quantitative","scale":{"domain":[500,2000],"nice":false,"zero":false},"axis":{"values":[500,750,1000,1250,1500,1750,2000],"format":"d","title":"Laser speed (mm/s)","titlePadding":3}},"y":{"field":"y","type":"quantitative","scale":{"domain":[0.1,0.15],"nice":false,"zero":false},"axis":{"values":[0.1,0.105,0.11,0.115,0.12,0.125,0.13,0.135,0.14,0.145,0.15],"format":".3~f","title":"Hatch distance (mm)","titleX":-28,"titleY":96.5}}},
"layer":[
{"data":{"name":"c"},"transform":[{"window":[{"op":"row_number","as":"i"}]}],"mark":{"type":"line","strokeWidth":0},"encoding":{"fill":{"field":"v","type":"quantitative","scale":{"domain":[93.68,94.26,94.84,95.43,96.01,96.59,97.17,97.64,97.99,98.26,98.51,98.84,99,99.5],"range":["#3b2a9e","#4343d6","#4a60f8","#2f85f5","#1fa5dc","#05b8c4","#3fc795","#90cc50","#c4b82c","#e6b22e","#f5b038","#fdcc2c","#f5dc25","#ffff10"]},"legend":{"title":null,"orient":"none","legendX":257,"legendY":0,"gradientLength":193,"gradientThickness":5,"format":".1~f","values":[94,94.5,95,95.5,96,96.5,97,97.5,98,98.5,99,99.5]}},"detail":{"field":"s"},"order":{"field":"i"}}},
{"data":{"name":"c"},"transform":[{"window":[{"op":"row_number","as":"i"}]},{"filter":"isValid(datum.g)"}],"mark":{"type":"line","stroke":"#4a4a4a","strokeWidth":0.6,"strokeOpacity":0.8},"encoding":{"detail":{"field":"g"},"order":{"field":"i"}}},
{"data":{"name":"mc"},"transform":[{"window":[{"op":"row_number","as":"i"}]}],"mark":{"type":"line","fill":"white","stroke":"white","strokeWidth":0},"encoding":{"detail":{"field":"m"},"order":{"field":"i"}}},
{"data":{"name":"pc"},"mark":{"type":"point","filled":true,"color":"black","size":20,"opacity":1}},
{"data":{"values":[{"x":2000,"y":0.15}]},"mark":{"type":"text","text":"Density","fontWeight":"bold","fontSize":10.8,"color":"#222222","dx":13,"dy":-11}},
{"data":{"values":[{"x":500,"y":0.15}]},"mark":{"type":"text","text":"c","align":"left","baseline":"alphabetic","fontWeight":"bold","fontSize":21,"color":"#222222","dx":-48,"dy":7}}
]},
{"width":245,"height":193,
"encoding":{"x":{"field":"x","type":"quantitative","scale":{"domain":[500,2000],"nice":false,"zero":false},"axis":{"values":[500,750,1000,1250,1500,1750,2000],"format":"d","title":"Laser speed (mm/s)","titlePadding":-2,"labelPadding":6}},"y":{"field":"y","type":"quantitative","scale":{"domain":[100,170],"nice":false,"zero":false},"axis":{"values":[100,110,120,130,140,150,160,170],"title":"Laser power (W)","titleX":-21,"titleY":96.5}}},
"layer":[
{"data":{"name":"d"},"transform":[{"window":[{"op":"row_number","as":"i"}]}],"mark":{"type":"line","strokeWidth":0},"encoding":{"fill":{"field":"v","type":"quantitative","scale":{"domain":[94.07,94.61,95.16,95.7,96.24,96.79,97.33,97.76,98.09,98.34,98.58,98.88,99.03,99.5],"range":["#3b2a9e","#4343d6","#4a60f8","#2f85f5","#1fa5dc","#05b8c4","#3fc795","#90cc50","#c4b82c","#e6b22e","#f5b038","#fdcc2c","#f5dc25","#ffff10"]},"legend":{"title":null,"orient":"none","legendX":257,"legendY":0,"gradientLength":193,"gradientThickness":5,"format":".1~f","values":[94.5,95,95.5,96,96.5,97,97.5,98,98.5,99,99.5]}},"detail":{"field":"s"},"order":{"field":"i"}}},
{"data":{"name":"d"},"transform":[{"window":[{"op":"row_number","as":"i"}]},{"filter":"isValid(datum.g)"}],"mark":{"type":"line","stroke":"#4a4a4a","strokeWidth":0.6,"strokeOpacity":0.8},"encoding":{"detail":{"field":"g"},"order":{"field":"i"}}},
{"data":{"name":"md"},"transform":[{"window":[{"op":"row_number","as":"i"}]}],"mark":{"type":"line","fill":"white","stroke":"white","strokeWidth":0},"encoding":{"detail":{"field":"m"},"order":{"field":"i"}}},
{"data":{"name":"pd"},"mark":{"type":"point","filled":true,"color":"black","size":20,"opacity":1}},
{"data":{"values":[{"x":2000,"y":170}]},"mark":{"type":"text","text":"Density","fontWeight":"bold","fontSize":10.8,"color":"#222222","dx":19,"dy":-9}},
{"data":{"values":[{"x":500,"y":170}]},"mark":{"type":"text","text":"d","align":"left","baseline":"alphabetic","fontWeight":"bold","fontSize":21,"color":"#222222","dx":-52,"dy":7}}
]}
]}
